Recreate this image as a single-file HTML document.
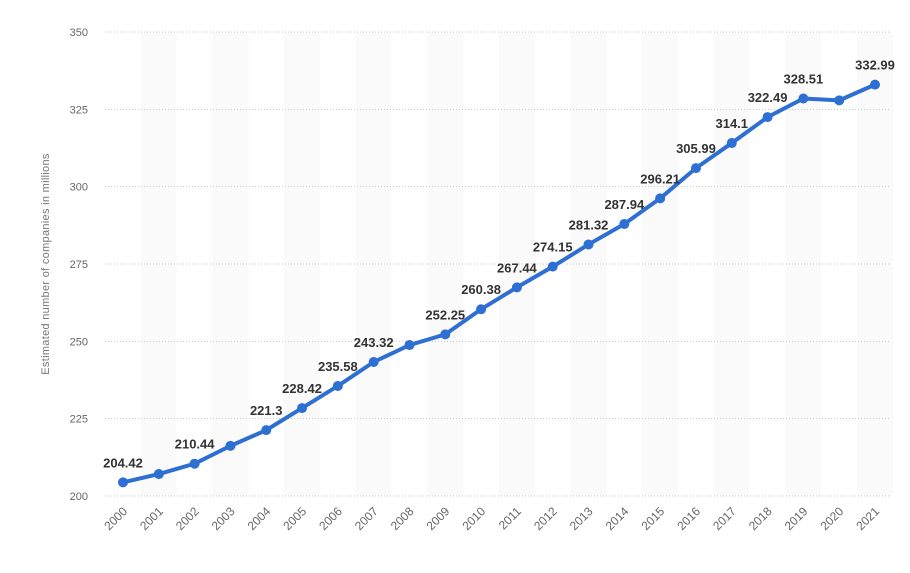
<!DOCTYPE html>
<html><head><meta charset="utf-8"><style>
body{margin:0;background:#fff;width:910px;height:568px;overflow:hidden;font-family:"Liberation Sans",sans-serif}
</style></head><body>
<svg id="chart" width="910" height="568" xmlns="http://www.w3.org/2000/svg">
<rect width="910" height="568" fill="#fff"/>
<text transform="translate(49,264) rotate(-90)" text-anchor="middle" font-size="11" fill="#777" letter-spacing="0.3">Estimated number of companies in millions</text>
<g id="bands"></g><g id="grid"></g><g id="yt"></g><g id="xt"></g><g id="series"></g><g id="labels"></g>
</svg>
<script>
const years=["2000","2001","2002","2003","2004","2005","2006","2007","2008","2009","2010","2011","2012","2013","2014","2015","2016","2017","2018","2019","2020","2021"];
const values=[204.42,207.1,210.44,216.2,221.3,228.42,235.58,243.32,248.8,252.25,260.38,267.44,274.15,281.32,287.94,296.21,305.99,314.1,322.49,328.51,327.9,332.99];
const valueLabels=["204.42","","210.44","","221.3","228.42","235.58","243.32","","252.25","260.38","267.44","274.15","281.32","287.94","296.21","305.99","314.1","322.49","328.51","","332.99"];
const yTicks=[200,225,250,275,300,325,350];
const NS="http://www.w3.org/2000/svg";
const x=i=>123+i*(875-123)/(years.length-1);
const y=v=>496-(v-200)*(496-32)/150;
const step=(875-123)/(years.length-1);
function mk(tag,attrs,parent,text){const e=document.createElementNS(NS,tag);for(const k in attrs)e.setAttribute(k,attrs[k]);if(text!==undefined)e.textContent=text;document.getElementById(parent).appendChild(e);return e;}
years.forEach((yr,i)=>{if(i%2===1){const b=mk('rect',{x:x(i)-step/2,y:32,width:step,height:464,fill:'#fafafa'},'bands');

}});
yTicks.forEach(t=>{const l=mk('line',{x1:105,x2:890,y1:y(t),y2:y(t),stroke:'#c8c8c8','stroke-dasharray':'1,2'},'grid');


const tx=mk('text',{x:88,y:y(t)+4,'text-anchor':'end','font-size':11,fill:'#666'},'yt',String(t));

});
years.forEach((yr,i)=>{const tx=mk('text',{transform:`translate(${x(i)+5},${512}) rotate(-45)`,'text-anchor':'end','font-size':12,fill:'#666'},'xt',yr);

});
const pts=values.map((v,i)=>x(i)+','+y(v)).join(' ');
const pl=mk('polyline',{points:pts,fill:'none',stroke:'#2d6fd2','stroke-width':4,'stroke-linejoin':'round'},'series');


values.forEach((v,i)=>{const c=mk('circle',{cx:x(i),cy:y(v),r:5,fill:'#2d6fd2'},'series');


if(valueLabels[i]){const t=mk('text',{x:x(i),y:y(v)-15,'text-anchor':'middle','font-size':13,'font-weight':'bold',fill:'#333'},'labels',valueLabels[i]);

}});
</script>
</body></html>
